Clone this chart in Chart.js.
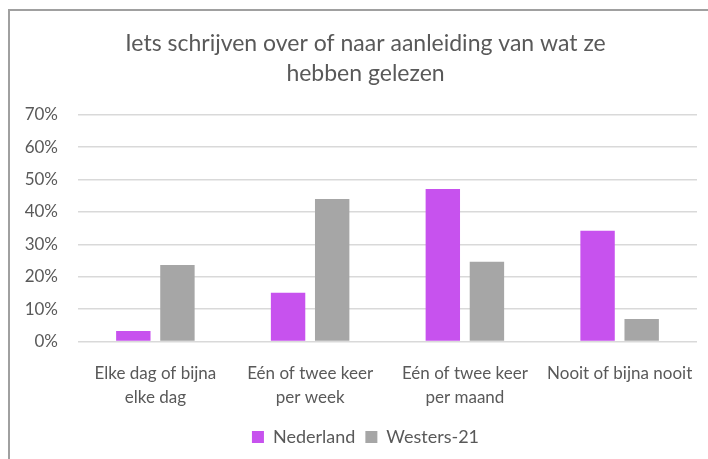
<!DOCTYPE html>
<html>
<head>
<meta charset="utf-8">
<script src="https://cdn.jsdelivr.net/npm/chart.js@4"></script>
<style>
  html, body { margin: 0; padding: 0; background: #fff; }
  #frame {
    position: absolute; left: 8px; top: 9px; width: 700px; height: 450px;
    border-top: 2px solid #a0a0a0; border-left: 2px solid #a0a0a0;
  }
  #wrap { position: absolute; left: 0; top: 0; width: 698px; height: 448px; }
</style>
</head>
<body>
<div id="frame"><div id="wrap"><canvas id="chart"></canvas></div></div>
<script>
// ---------------------------------------------------------------------------
// DATA
// ---------------------------------------------------------------------------
const categories = [
  ['Elke dag of bijna', 'elke dag'],
  ['Eén of twee keer', 'per week'],
  ['Eén of twee keer', 'per maand'],
  'Nooit of bijna nooit'
];
const nederland = [3.2, 15.0, 47.1, 34.2];
const westers21 = [23.6, 44.0, 24.6, 6.9];
const yTicks = [0, 10, 20, 30, 40, 50, 60, 70];

const titleLines = ['Iets schrijven over of naar aanleiding van wat ze', 'hebben gelezen'];

const FONT = 'Lato, "Open Sans", sans-serif';
const TEXT = '#595959';

// nudge title + legend right so they centre like the original (y axis untouched)
const shiftBlocks = {
  id: 'shiftBlocks',
  afterLayout(chart) {
    [chart.titleBlock, chart.legend].forEach(b => {
      if (!b) return;
      b.left += 12;
      b.right += 12;
    });
  }
};

// ---------------------------------------------------------------------------
// CHART
// ---------------------------------------------------------------------------
const ctx = document.getElementById('chart');

new Chart(ctx, {
  type: 'bar',
  data: {
    labels: categories,
    datasets: [
      { label: 'Nederland', data: nederland, backgroundColor: '#c752ee' },
      { label: 'Westers-21', data: westers21, backgroundColor: '#a6a6a6' }
    ]
  },
  plugins: [shiftBlocks],
  options: {
    responsive: true,
    maintainAspectRatio: false,
    animation: false,
    categoryPercentage: 0.57,
    barPercentage: 0.78,
    layout: { padding: { left: 0, right: 11, top: 0, bottom: 3 } },
    plugins: {
      title: {
        display: true,
        text: titleLines,
        color: TEXT,
        font: { family: FONT, size: 23, weight: 'normal', lineHeight: 1.3 },
        padding: { top: 18, bottom: 26 }
      },
      legend: {
        position: 'bottom',
        labels: {
          color: TEXT,
          font: { family: FONT, size: 18 },
          boxWidth: 12,
          boxHeight: 12,
          padding: 10
        }
      },
      tooltip: { enabled: false }
    },
    scales: {
      x: {
        afterFit: axis => {
          axis.height -= 11;
          axis.paddingLeft = 0;
          axis.paddingRight = 0;
        },
        grid: { display: false, drawTicks: false },
        border: { display: false },
        ticks: {
          color: TEXT,
          font: { family: FONT, size: 17, lineHeight: 1.4 },
          maxRotation: 0,
          autoSkip: false,
          padding: 20
        }
      },
      y: {
        min: 0,
        max: 70,
        afterBuildTicks: axis => { axis.ticks = yTicks.map(v => ({ value: v })); },
        afterFit: axis => { axis.width = 68; },
        grid: { color: '#d9d9d9', lineWidth: 1.5, drawTicks: false },
        border: { display: false },
        ticks: {
          color: TEXT,
          font: { family: FONT, size: 17 },
          padding: 20,
          callback: v => v + '%'
        }
      }
    }
  }
});
</script>
</body>
</html>
